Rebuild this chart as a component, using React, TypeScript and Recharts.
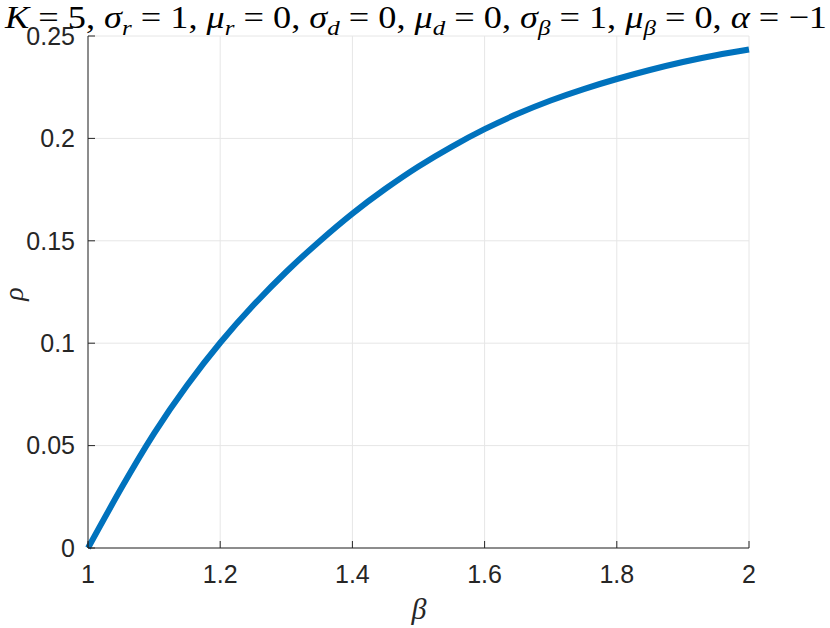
import React from 'react'
import { LineChart, Line, XAxis, YAxis, CartesianGrid } from 'recharts'

const betaValues = [1.0, 1.05, 1.1, 1.15, 1.2, 1.25, 1.3, 1.35, 1.4, 1.45, 1.5, 1.55, 1.6, 1.65, 1.7, 1.75, 1.8, 1.85, 1.9, 1.95, 2.0]
const rhoValues = [0, 0.029, 0.056, 0.0795, 0.1002, 0.1185, 0.1349, 0.1497, 0.1633, 0.1754, 0.1863, 0.1959, 0.2045, 0.212, 0.2185, 0.2241, 0.229, 0.2334, 0.2373, 0.2406, 0.2434]
const xTicks = [1, 1.2, 1.4, 1.6, 1.8, 2]
const yTicks = [0, 0.05, 0.1, 0.15, 0.2, 0.25]

const data = betaValues.map((b, i) => ({ beta: b, rho: rhoValues[i] }))

const TXT = '#262626'
const FONT = 'Liberation Sans, Arial, sans-serif'

// pairs of [main symbol, subscript, following text]
const titleParts: [string, string, string][] = [
    ['K', '', ' = 5, '],
    ['σ', 'r', ' = 1, '],
    ['μ', 'r', ' = 0, '],
    ['σ', 'd', ' = 0, '],
    ['μ', 'd', ' = 0, '],
    ['σ', 'β', ' = 1, '],
    ['μ', 'β', ' = 0, '],
    ['α', '', ' = −1'],
]

const Title = () => (
    <text x={5} y={28} fontFamily="Liberation Serif, serif" fontSize={32} fill="#000" textLength={822} lengthAdjust="spacingAndGlyphs">
        {titleParts.map(([sym, sub, rest], i) => (
            <React.Fragment key={i}>
                <tspan fontStyle="italic">{sym}</tspan>
                {sub ? <tspan dy={7} fontSize={22} fontStyle="italic">{sub}</tspan> : null}
                <tspan dy={sub ? -7 : 0}>{rest}</tspan>
            </React.Fragment>
        ))}
    </text>
)

const XTick = (props: any) => (
    <text x={props.x} y={props.y} dy="0.71em" textAnchor="middle" fontFamily={FONT} fontSize={25} fill={TXT}>
        {String(props.payload.value)}
    </text>
)

const YTick = (props: any) => (
    <text x={props.x} y={props.y} dy="0.355em" textAnchor="end" fontFamily={FONT} fontSize={25} fill={TXT}>
        {String(props.payload.value)}
    </text>
)

const NoTick = () => <g />

export default function App() {
    return (
        <div style={{ position: 'absolute', left: 0, top: 0, width: 830, height: 628, background: '#fff' }}>
            <LineChart width={830} height={628} data={data} margin={{ top: 36, right: 81, bottom: 20, left: 8 }}>
                <CartesianGrid stroke="#e6e6e6" strokeWidth={1} />
                <XAxis
                    dataKey="beta"
                    type="number"
                    domain={[1, 2]}
                    ticks={xTicks}
                    height={60}
                    tickSize={-7}
                    tickMargin={24}
                    tick={<XTick />}
                    axisLine={{ stroke: TXT }}
                    tickLine={{ stroke: TXT }}
                />
                <XAxis
                    xAxisId="top"
                    orientation="top"
                    dataKey="beta"
                    type="number"
                    domain={[1, 2]}
                    ticks={xTicks}
                    height={0}
                    tick={<NoTick />}
                    tickSize={-7}
                    axisLine={{ stroke: TXT }}
                    tickLine={{ stroke: TXT }}
                />
                <YAxis
                    type="number"
                    domain={[0, 0.25]}
                    ticks={yTicks}
                    width={80}
                    tickSize={-7}
                    tickMargin={20}
                    tick={<YTick />}
                    axisLine={{ stroke: TXT }}
                    tickLine={{ stroke: TXT }}
                />
                <YAxis
                    yAxisId="right"
                    orientation="right"
                    type="number"
                    domain={[0, 0.25]}
                    ticks={yTicks}
                    width={0}
                    tick={<NoTick />}
                    tickSize={-7}
                    axisLine={{ stroke: TXT }}
                    tickLine={{ stroke: TXT }}
                />
                <Line dataKey="rho" type="natural" stroke="#0072BD" strokeWidth={6} dot={false} isAnimationActive={false} />
            </LineChart>
            <svg width={830} height={628} style={{ position: 'absolute', left: 0, top: 0, pointerEvents: 'none' }}>
                <Title />
                <text x={419} y={619} textAnchor="middle" fontFamily="Liberation Serif, serif" fontStyle="italic" fontSize={30} fill={TXT}>β</text>
                <text x={0} y={0} transform="translate(23,294) rotate(-90)" textAnchor="middle" fontFamily="Liberation Serif, serif" fontStyle="italic" fontSize={28} fill={TXT}>ρ</text>
            </svg>
        </div>
    )
}
